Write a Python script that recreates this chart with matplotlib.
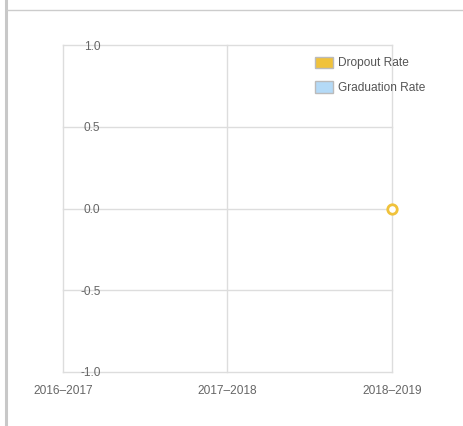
import numpy as np
import matplotlib
matplotlib.use("Agg")
import matplotlib.pyplot as plt
from matplotlib.patches import Patch
from matplotlib.lines import Line2D

plt.rcParams['font.family'] = ['Liberation Sans', 'DejaVu Sans']

# chart data
years = ["2016–2017", "2017–2018", "2018–2019"]
dropout_rate = [np.nan, np.nan, 0.0]
graduation_rate = [np.nan, np.nan, np.nan]
y_ticks = [-1.0, -0.5, 0.0, 0.5, 1.0]

dropout_color = "#F0C23B"
graduation_color = "#B4DAF7"
grid_color = "#DDDDDD"
text_color = "#666666"

W, H = 464, 426
fig = plt.figure(figsize=(W / 100, H / 100), dpi=100)

# page frame lines (left border and top rule)
fig.add_artist(Line2D([6 / W, 6 / W], [0, 1], color="#C8C8C8", lw=2.2))
fig.add_artist(Line2D([7 / W, 1], [1 - 9.5 / H, 1 - 9.5 / H], color="#CCCCCC", lw=1))

ax = fig.add_axes([63 / W, (H - 372) / H, (392 - 63) / W, (372 - 45) / H])
x = np.arange(len(years))

ax.plot(x, graduation_rate, color=graduation_color, marker="o", ms=6.8,
        mfc="white", mec=graduation_color, mew=2.0, clip_on=False, zorder=3)
ax.plot(x, dropout_rate, color=dropout_color, marker="o", ms=6.8,
        mfc="white", mec=dropout_color, mew=2.0, clip_on=False, zorder=4)

ax.set_xlim(0, len(years) - 1)
ax.set_ylim(-1, 1)
ax.set_xticks(x)
ax.set_xticklabels(years)
ax.set_yticks(y_ticks)
ax.set_yticklabels([f"{v:.1f}" for v in y_ticks])

ax.grid(True, color=grid_color, lw=1)
ax.set_axisbelow(True)
for gl in ax.get_xgridlines() + ax.get_ygridlines():
    gl.set_clip_on(False)
for s in ax.spines.values():
    s.set_visible(False)

ax.tick_params(axis="x", length=0, pad=9.5, labelsize=8.6, labelcolor=text_color)
ax.tick_params(axis="y", length=0, pad=-27, labelsize=8.6, labelcolor=text_color)

handles = [Patch(facecolor=dropout_color, edgecolor="#BBBBBB", lw=1),
           Patch(facecolor=graduation_color, edgecolor="#BBBBBB", lw=1)]
fig.legend(handles, ["Dropout Rate", "Graduation Rate"],
           loc="upper left", bbox_to_anchor=(315 / W, 1 - 56.5 / H),
           frameon=False, fontsize=8.6, borderpad=0, borderaxespad=0,
           handlelength=1.5, handleheight=1.15, handletextpad=0.45,
           labelspacing=1.0, labelcolor="#555555")

fig.savefig("out.png", dpi=100)
